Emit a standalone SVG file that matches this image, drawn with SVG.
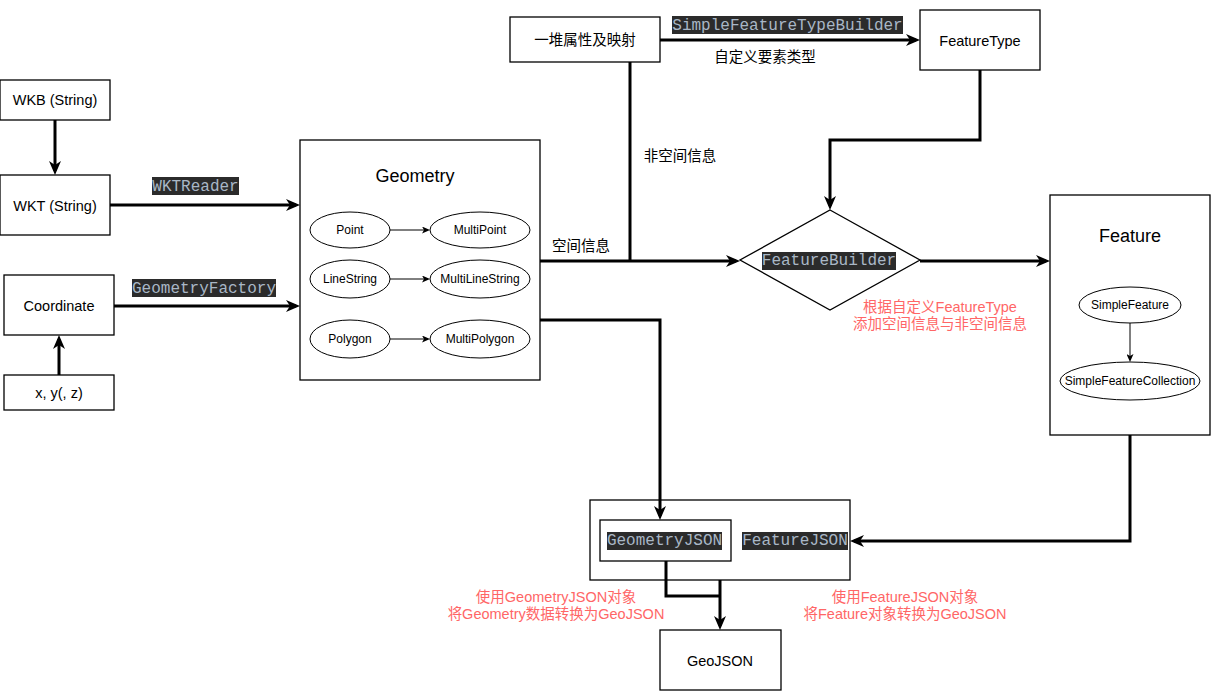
<svg xmlns="http://www.w3.org/2000/svg" width="1211" height="691" viewBox="0 0 1211 691">
<style>
.box{fill:#fff;stroke:#000;stroke-width:1.3}
.ell{fill:#fff;stroke:#000;stroke-width:1}
.t{font-family:"Liberation Sans",Arial,"Noto Sans CJK SC",sans-serif;font-size:14.5px;fill:#000;text-anchor:middle;dominant-baseline:central}
.s12{font-size:12px}
.s18{font-size:18px}
.red{fill:#FF6666}
.code{font-family:"Liberation Mono","Courier New",monospace;font-size:16px;fill:#a9b7c6;text-anchor:middle;dominant-baseline:central}
.cbg{fill:#2b2b2b}
.thick{fill:none;stroke:#000;stroke-width:3;marker-end:url(#ah)}
.thickn{fill:none;stroke:#000;stroke-width:3}
.thin{fill:none;stroke:#000;stroke-width:1;marker-end:url(#ahs)}
</style>
<defs>
<marker id="ah" viewBox="0 0 14 12" markerWidth="14" markerHeight="12" refX="10" refY="6" orient="auto" markerUnits="userSpaceOnUse"><path d="M0,0 L14,6 L0,12 L4,6 z" fill="#000"/></marker>
<marker id="ahs" viewBox="0 0 8 7" markerWidth="8" markerHeight="7" refX="6" refY="3.5" orient="auto" markerUnits="userSpaceOnUse"><path d="M0,0 L8,3.5 L0,7 L2,3.5 z" fill="#000"/></marker>
</defs>
<rect width="1211" height="691" fill="#fff"/>

<g id="wkb"><rect class="box" x="0" y="80" width="110" height="40"/><text class="t" x="55" y="100">WKB (String)</text></g>
<g id="wkt"><rect class="box" x="0" y="175" width="110" height="60"/><text class="t" x="55" y="206">WKT (String)</text></g>
<g id="coordinate"><rect class="box" x="4" y="275" width="110" height="60"/><text class="t" x="59" y="306">Coordinate</text></g>
<g id="xyz"><rect class="box" x="4" y="375" width="110" height="35"/><text class="t" x="59" y="393">x, y(, z)</text></g>

<g id="geometry">
<rect class="box" x="300" y="140" width="240" height="240"/>
<text class="t s18" x="415" y="176">Geometry</text>
</g>
<g id="point"><ellipse class="ell" cx="350" cy="230" rx="40" ry="18"/><text class="t s12" x="350" y="230">Point</text></g>
<g id="multipoint"><ellipse class="ell" cx="480" cy="230" rx="50" ry="18"/><text class="t s12" x="480" y="230">MultiPoint</text></g>
<g id="linestring"><ellipse class="ell" cx="350" cy="279" rx="40" ry="19"/><text class="t s12" x="350" y="279">LineString</text></g>
<g id="multilinestring"><ellipse class="ell" cx="480" cy="279" rx="50" ry="19"/><text class="t s12" x="480" y="279">MultiLineString</text></g>
<g id="polygon"><ellipse class="ell" cx="350" cy="339" rx="40" ry="19"/><text class="t s12" x="350" y="339">Polygon</text></g>
<g id="multipolygon"><ellipse class="ell" cx="480" cy="339" rx="50" ry="19"/><text class="t s12" x="480" y="339">MultiPolygon</text></g>

<g id="attributes"><rect class="box" x="510" y="17" width="150" height="45"/><text class="t" x="585" y="40">一堆属性及映射</text></g>
<g id="featuretype"><rect class="box" x="920" y="10" width="120" height="60"/><text class="t" x="980" y="41">FeatureType</text></g>

<g id="featurebuilder">
<path class="box" d="M830,210 L920,260 L830,310 L740,260 Z"/>
<rect class="cbg" x="762" y="252" width="134" height="18"/>
<text class="code" x="829" y="261">FeatureBuilder</text>
</g>

<g id="feature">
<rect class="box" x="1050" y="195" width="160" height="240"/>
<text class="t s18" x="1130" y="236">Feature</text>
</g>
<g id="simplefeature"><ellipse class="ell" cx="1130" cy="305" rx="51" ry="18"/><text class="t s12" x="1130" y="305">SimpleFeature</text></g>
<g id="simplefeaturecollection"><ellipse class="ell" cx="1130" cy="381" rx="70" ry="19"/><text class="t s12" x="1130" y="381">SimpleFeatureCollection</text></g>

<g id="jsonbox"><rect class="box" x="590" y="500" width="260" height="80"/></g>
<g id="geometryjson">
<rect class="box" x="600" y="520" width="131" height="41"/>
<rect class="cbg" x="607" y="532" width="115" height="18"/>
<text class="code" x="664.5" y="541">GeometryJSON</text>
</g>
<g id="featurejson">
<rect class="cbg" x="742" y="532" width="106" height="18"/>
<text class="code" x="795" y="541">FeatureJSON</text>
</g>
<g id="geojson"><rect class="box" x="660" y="630" width="121" height="60"/><text class="t" x="720" y="661">GeoJSON</text></g>

<g id="connectors">
<path class="thick" d="M55,120 V171"/>
<path class="thick" d="M110,205 H296"/>
<path class="thick" d="M114,306 H296"/>
<path class="thick" d="M59,375 V339"/>
<path class="thick" d="M540,261 H736"/>
<path class="thickn" d="M630,62 V261"/>
<path class="thick" d="M660,40 H916"/>
<path class="thick" d="M980,70 V140 H830 V206"/>
<path class="thick" d="M920,261 H1046"/>
<path class="thick" d="M540,320 H660 V516"/>
<path class="thick" d="M1130,435 V541 H854"/>
<path class="thickn" d="M666,561 V596 H720"/>
<path class="thick" d="M720,580 V626"/>
<path class="thin" d="M390,230 H428"/>
<path class="thin" d="M390,279 H428"/>
<path class="thin" d="M390,339 H428"/>
<path class="thin" d="M1130,323 V360"/>
</g>

<g id="labels">
<rect class="cbg" x="152" y="177" width="87" height="18"/>
<text class="code" x="195.5" y="186.5">WKTReader</text>
<rect class="cbg" x="132" y="279" width="144" height="18"/>
<text class="code" x="204" y="288.5">GeometryFactory</text>
<rect class="cbg" x="672" y="16" width="231" height="18"/>
<text class="code" x="787.5" y="25.5">SimpleFeatureTypeBuilder</text>
<text class="t" x="765" y="57">自定义要素类型</text>
<text class="t" x="581" y="246">空间信息</text>
<text class="t" x="680" y="156">非空间信息</text>
<text class="t red" x="940" y="307">根据自定义FeatureType</text>
<text class="t red" x="940" y="324">添加空间信息与非空间信息</text>
<text class="t red" x="556" y="597">使用GeometryJSON对象</text>
<text class="t red" x="556" y="614">将Geometry数据转换为GeoJSON</text>
<text class="t red" x="905" y="597">使用FeatureJSON对象</text>
<text class="t red" x="905" y="614">将Feature对象转换为GeoJSON</text>
</g>
</svg>
